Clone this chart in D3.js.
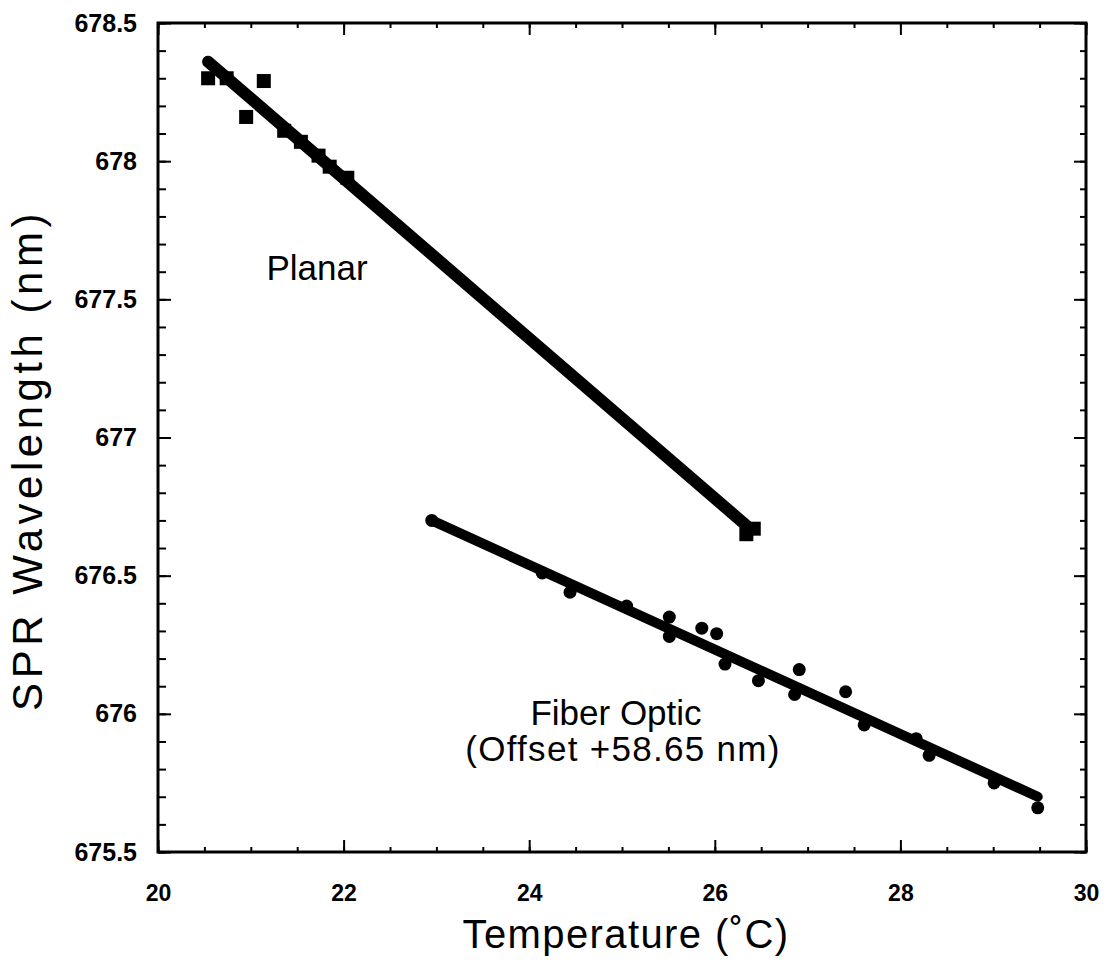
<!DOCTYPE html>
<html>
<head>
<meta charset="utf-8">
<script src="https://cdn.jsdelivr.net/npm/d3@7"></script>
<style>
  body { margin: 0; background: #fff; }
  text { font-family: "Liberation Sans", Arial, sans-serif; fill: #000; }
</style>
</head>
<body>
<svg id="chart" width="1114" height="966"></svg>
<script>
// Planar sensor (squares)
const planarT = [20.54, 20.74, 20.95, 21.14, 21.36, 21.54, 21.73, 21.85, 22.04, 26.34, 26.42];
const planarW = [678.30, 678.30, 678.16, 678.29, 678.11, 678.07, 678.02, 677.98, 677.94, 676.65, 676.67];
const planarFitT = [20.54, 26.38];
const planarFitW = [678.36, 676.67];

// Fiber optic sensor (circles), offset +58.65 nm
const fiberT = [22.95, 24.14, 24.44, 25.05, 25.51, 25.51, 25.86, 26.02, 26.11, 26.47, 26.91, 26.86, 27.41, 27.61, 28.17, 28.31, 29.01, 29.48];
const fiberW = [676.70, 676.51, 676.44, 676.39, 676.35, 676.28, 676.31, 676.29, 676.18, 676.12, 676.16, 676.07, 676.08, 675.96, 675.91, 675.85, 675.75, 675.66];
const fiberFitT = [22.95, 29.48];
const fiberFitW = [676.70, 675.70];

const xTicks = [20, 22, 24, 26, 28, 30];
const yTicks = [675.5, 676, 676.5, 677, 677.5, 678, 678.5];

const mLeft = 158, mRight = 1086, mTop = 23, mBottom = 852;

const svg = d3.select("#chart");

const x = d3.scaleLinear().domain([20, 30]).range([mLeft, mRight]);
const y = d3.scaleLinear().domain([675.5, 678.5]).range([mBottom, mTop]);

const xMinor = d3.range(20, 30.01, 0.5);
const yMinor = d3.range(0, 31).map(i => 675.5 + i * 0.1);

function styleAxis(g) {
    g.select(".domain").remove();
    g.selectAll("line").attr("stroke", "#000").attr("stroke-width", 2);
}

// bottom
svg.append("g").attr("transform", `translate(0,${mBottom})`)
    .call(d3.axisBottom(x).tickValues(xMinor).tickSize(-5).tickFormat(""))
    .call(styleAxis);
svg.append("g").attr("transform", `translate(0,${mBottom})`)
    .call(d3.axisBottom(x).tickValues(xTicks).tickSize(-12).tickPadding(33).tickFormat(d3.format("d")))
    .call(styleAxis)
    .call(g => g.selectAll("text").style("font-size", "23px").style("font-weight", "bold"));

// top
svg.append("g").attr("transform", `translate(0,${mTop})`)
    .call(d3.axisTop(x).tickValues(xMinor).tickSize(-5).tickFormat(""))
    .call(styleAxis);
svg.append("g").attr("transform", `translate(0,${mTop})`)
    .call(d3.axisTop(x).tickValues(xTicks).tickSize(-12).tickFormat(""))
    .call(styleAxis);

// left
svg.append("g").attr("transform", `translate(${mLeft},0)`)
    .call(d3.axisLeft(y).tickValues(yMinor).tickSize(-8).tickFormat(""))
    .call(styleAxis);
svg.append("g").attr("transform", `translate(${mLeft},0)`)
    .call(d3.axisLeft(y).tickValues(yTicks).tickSize(-13).tickPadding(21).tickFormat(d => d3.format("")(d)))
    .call(styleAxis)
    .call(g => g.selectAll("text").style("font-size", "25px").style("font-weight", "bold"));

// right
svg.append("g").attr("transform", `translate(${mRight},0)`)
    .call(d3.axisRight(y).tickValues(yMinor).tickSize(-6).tickFormat(""))
    .call(styleAxis);
svg.append("g").attr("transform", `translate(${mRight},0)`)
    .call(d3.axisRight(y).tickValues(yTicks).tickSize(-12).tickFormat(""))
    .call(styleAxis);

// frame
svg.append("rect")
    .attr("x", mLeft).attr("y", mTop)
    .attr("width", mRight - mLeft).attr("height", mBottom - mTop)
    .attr("fill", "none").attr("stroke", "#000").attr("stroke-width", 3);

// fit lines
const line = d3.line().x(d => x(d[0])).y(d => y(d[1]));
svg.append("path")
    .datum(planarFitT.map((t, i) => [t, planarFitW[i]]))
    .attr("d", line).attr("fill", "none").attr("stroke", "#000")
    .attr("stroke-width", 12).attr("stroke-linecap", "round");
svg.append("path")
    .datum(fiberFitT.map((t, i) => [t, fiberFitW[i]]))
    .attr("d", line).attr("fill", "none").attr("stroke", "#000")
    .attr("stroke-width", 10).attr("stroke-linecap", "round");

// markers
const sq = 14;
svg.selectAll(".planar")
    .data(planarT.map((t, i) => [t, planarW[i]]))
    .join("rect")
    .attr("class", "planar")
    .attr("x", d => x(d[0]) - sq / 2)
    .attr("y", d => y(d[1]) - sq / 2)
    .attr("width", sq).attr("height", sq)
    .attr("fill", "#000");

svg.selectAll(".fiber")
    .data(fiberT.map((t, i) => [t, fiberW[i]]))
    .join("circle")
    .attr("class", "fiber")
    .attr("cx", d => x(d[0]))
    .attr("cy", d => y(d[1]))
    .attr("r", 6.5)
    .attr("fill", "#000");

// annotations
svg.append("text").attr("x", 317).attr("y", 280)
    .attr("text-anchor", "middle").style("font-size", "35px").text("Planar");
svg.append("text").attr("x", 616).attr("y", 725)
    .attr("text-anchor", "middle").style("font-size", "35px").text("Fiber Optic");
svg.append("text").attr("x", 623).attr("y", 761)
    .attr("text-anchor", "middle").style("font-size", "35px")
    .style("letter-spacing", "1.3px").text("(Offset +58.65 nm)");

// axis titles
svg.append("text").attr("x", 626).attr("y", 948)
    .attr("text-anchor", "middle").style("font-size", "40px")
    .style("letter-spacing", "1.4px").text("Temperature (˚C)");
svg.append("text")
    .attr("transform", `translate(42,460) rotate(-90)`)
    .attr("text-anchor", "middle").style("font-size", "42px")
    .style("letter-spacing", "4.5px").text("SPR Wavelength (nm)");
</script>
</body>
</html>
